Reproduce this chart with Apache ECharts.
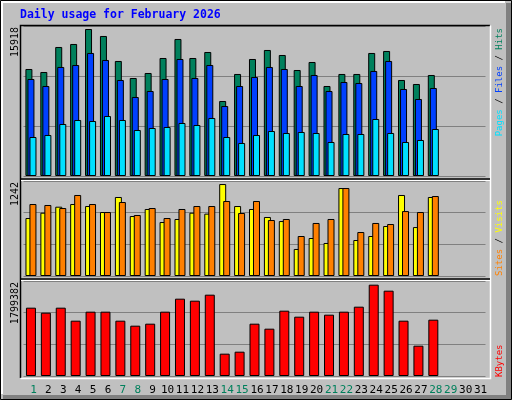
<!DOCTYPE html>
<html><head><meta charset="utf-8">
<script src="https://cdn.jsdelivr.net/npm/echarts@6/dist/echarts.min.js"></script>
<style>html,body{margin:0;padding:0;background:#C0C0C0}#c{width:512px;height:400px}</style>
</head><body><div id="c"></div>
<script>
const days = ['1','2','3','4','5','6','7','8','9','10','11','12','13','14','15','16','17','18','19','20','21','22','23','24','25','26','27','28','29','30','31'];
const weekendDays = ['1','7','8','14','15','21','22','28','29'];
const hits = [11588,11263,13971,14296,15918,15162,12455,10613,11155,12779,14837,12779,13429,8123,11047,12671,13646,13104,11480,12346,9747,11047,11047,13321,13538,10397,9964,10938];
const files = [10505,9747,11805,12021,13321,12563,10397,8556,9206,10505,12671,10613,12021,7581,9747,10722,11805,11588,9747,10938,9206,10180,10072,11372,12455,9422,8339,9530];
const pages = [4224,4440,5632,6065,5957,6498,6065,4982,5198,5307,5740,5523,6281,4224,3574,4440,4874,4657,4765,4657,3682,4549,4549,6173,4657,3682,3899,5090];
const visits = [783,855,936,972,945,864,1067,810,905,729,770,855,842,1242,945,905,797,742,365,513,446,1188,486,540,675,1094,661,1067];
const sites = [972,959,918,1094,972,864,999,824,918,783,905,945,945,1013,851,1013,756,770,540,716,770,1188,594,716,702,877,864,1080];
const kbytes = [1346235,1247730,1346235,1090122,1267431,1267431,1090122,991617,1031019,1267431,1523544,1484142,1602348,439989,479391,1031019,932514,1287132,1168926,1267431,1208328,1267431,1365936,1799382,1681152,1090122,597597,1109823];
const maxLabels = ['15918','1242','1799382'];

const FONT = 'DejaVu Sans Mono';
const ch = echarts.init(document.getElementById('c'));
const tops = [26, 181, 281], hs = [150, 95, 95];
const maxes = [16243, 1283, 1872000];
const grids = tops.map((t,i)=>({left:23.5, width:462, top:t, height:hs[i]}));
const xAxes = [0,1,2].map(i=>({type:'category', gridIndex:i, data:days,
  axisLine:{show:false}, axisTick:{show:false},
  axisLabel: i<2 ? {show:false} : {show:true, interval:0, fontFamily:FONT, fontSize:11, margin:9, padding:[0,0,0,5],
    color:(v)=> weekendDays.includes(v) ? '#00805C' : '#000000'}}));
const yAxes = [0,1,2].map(i=>({type:'value', gridIndex:i, min:0, max:maxes[i], interval:maxes[i]/3,
  axisLabel:{show:false}, axisLine:{show:false}, axisTick:{show:false},
  splitLine:{show:true, lineStyle:{color:'#808080', width:1}}}));
const bs = {borderColor:'#000', borderWidth:1};
function bar(name, data, gi, color, gap, w){
  return {type:'bar', name, data, xAxisIndex:gi, yAxisIndex:gi, barWidth:w, barGap:gap,
    itemStyle:Object.assign({color}, bs), animation:false, silent:true};
}
const series = [
  bar('Hits', hits, 0, '#00805C', '-71%', 7),
  bar('Files', files, 0, '#0040FF', '-71%', 7),
  bar('Pages', pages, 0, '#00E0FF', '-71%', 7),
  bar('Visits', visits, 1, '#FFFF00', '-43%', 7),
  bar('Sites', sites, 1, '#FF8000', '-43%', 7),
  bar('KBytes', kbytes, 2, '#FF0000', '0%', 10),
];
const rot = Math.PI/2;
const graphic = [
  {type:'rect', shape:{x:0.5,y:0.5,width:511,height:399}, style:{fill:'none', stroke:'#000'}, z:-1},
  {type:'rect', shape:{x:506,y:3,width:5,height:396}, style:{fill:'#808080'}, z:-1},
  {type:'rect', shape:{x:3,y:395,width:508,height:4}, style:{fill:'#808080'}, z:-1},
  {type:'polyline', shape:{points:[[2,394],[2,2],[505,2]]}, style:{fill:'none', stroke:'#fff', lineWidth:2}, z:-1},
  {type:'text', x:20, y:15, style:{text:'Daily usage for February 2026', fill:'#0000FF', font:'bold 11.5px "DejaVu Sans Mono"', textVerticalAlign:'middle'}},
  {type:'polyline', shape:{points:[[20.5,378],[20.5,25.5],[490,25.5]]}, style:{fill:'none', stroke:'#000', lineWidth:1.5}, z:10},
  {type:'polyline', shape:{points:[[490.5,25.5],[490.5,378.5],[20.5,378.5]]}, style:{fill:'none', stroke:'#fff', lineWidth:1.5}, z:10},
  {type:'line', shape:{x1:21,y1:179,x2:490,y2:179}, style:{stroke:'#000', lineWidth:1.5}, z:10},
  {type:'line', shape:{x1:21,y1:180.5,x2:490,y2:180.5}, style:{stroke:'#fff', lineWidth:1}, z:10},
  {type:'line', shape:{x1:21,y1:279,x2:490,y2:279}, style:{stroke:'#000', lineWidth:1.5}, z:10},
  {type:'line', shape:{x1:21,y1:280.5,x2:490,y2:280.5}, style:{stroke:'#fff', lineWidth:1}, z:10},
  {type:'text', x:15, y:27, rotation:rot, style:{text:maxLabels[0], fill:'#000', font:'10px "DejaVu Sans Mono"', textAlign:'right', textVerticalAlign:'middle'}},
  {type:'text', x:15, y:182, rotation:rot, style:{text:maxLabels[1], fill:'#000', font:'10px "DejaVu Sans Mono"', textAlign:'right', textVerticalAlign:'middle'}},
  {type:'text', x:15, y:282, rotation:rot, style:{text:maxLabels[2], fill:'#000', font:'10px "DejaVu Sans Mono"', textAlign:'right', textVerticalAlign:'middle'}},
  {type:'text', x:500, y:28, rotation:rot, style:{text:'{p|Pages}{s| / }{f|Files}{s| / }{h|Hits}', textAlign:'right', textVerticalAlign:'middle',
    font:'9px "DejaVu Sans Mono"', rich:{p:{fill:'#00E0FF',font:'9px "DejaVu Sans Mono"'},s:{fill:'#000',font:'9px "DejaVu Sans Mono"'},f:{fill:'#0040FF',font:'9px "DejaVu Sans Mono"'},h:{fill:'#00805C',font:'9px "DejaVu Sans Mono"'}}}},
  {type:'text', x:500, y:276, rotation:rot, style:{text:'{a|Sites}{s| / }{b|Visits}', textAlign:'left', textVerticalAlign:'middle',
    font:'9px "DejaVu Sans Mono"', rich:{a:{fill:'#FF8000',font:'9px "DejaVu Sans Mono"'},s:{fill:'#000',font:'9px "DejaVu Sans Mono"'},b:{fill:'#FFFF00',font:'9px "DejaVu Sans Mono"'}}}},
  {type:'text', x:500, y:377, rotation:rot, style:{text:'KBytes', fill:'#FF0000', font:'9px "DejaVu Sans Mono"', textAlign:'left', textVerticalAlign:'middle'}},
];
ch.setOption({backgroundColor:'#C0C0C0', animation:false, grid:grids, xAxis:xAxes, yAxis:yAxes, series, graphic});
</script></body></html>
